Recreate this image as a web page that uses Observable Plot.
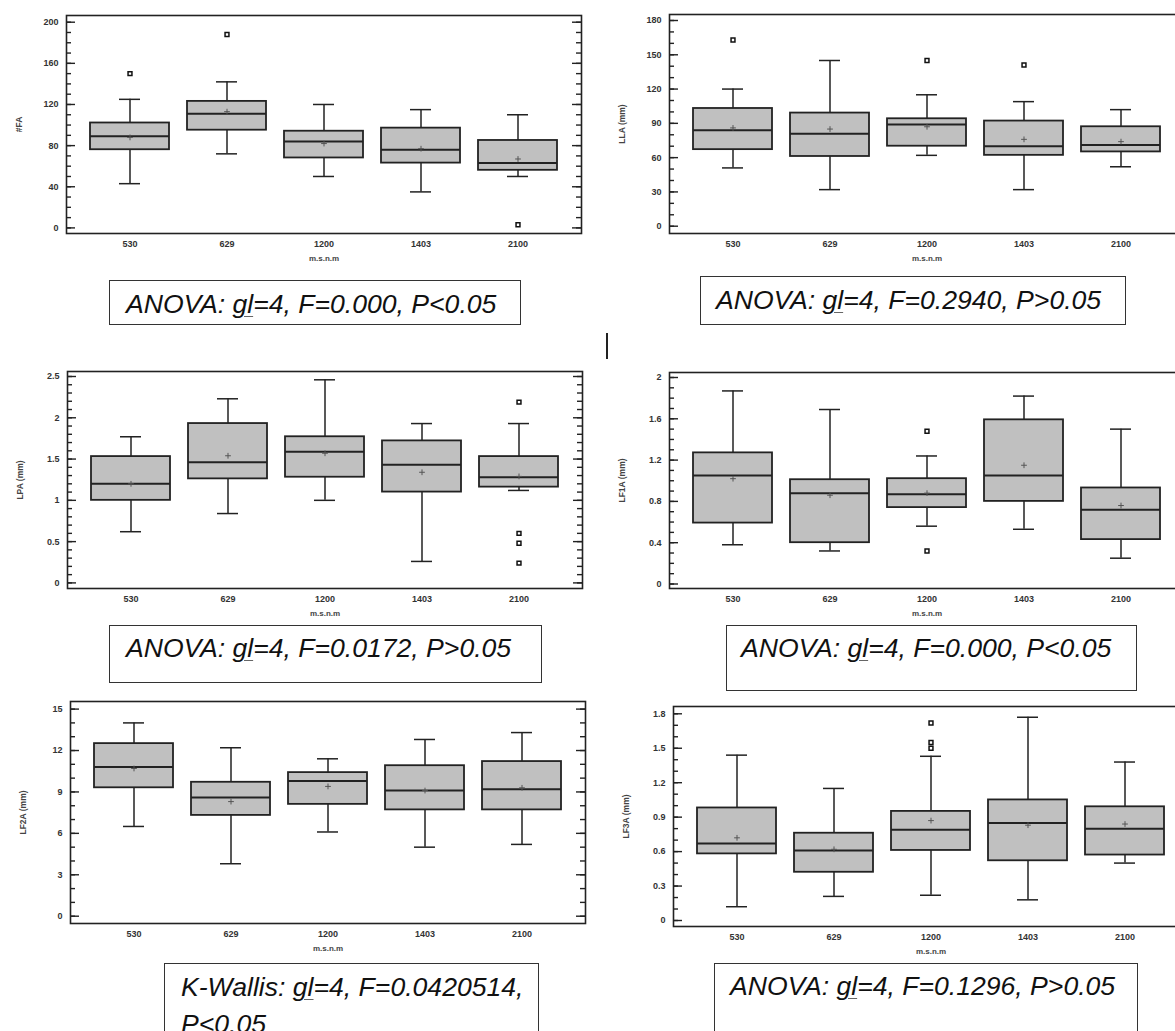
<!DOCTYPE html>
<html>
<head>
<meta charset="utf-8">
<script src="https://cdn.jsdelivr.net/npm/d3@7"></script>
<script src="https://cdn.jsdelivr.net/npm/@observablehq/plot@0.6"></script>
<style>
  html, body { margin: 0; padding: 0; background: #fff; overflow: hidden; }
  #page { position: relative; width: 1175px; height: 1031px; overflow: hidden; background: #fff; }
  .cap-box { position: absolute; box-sizing: border-box; border: 1.5px solid #333; background: transparent; }
  .cap-text { position: absolute; font-family: "Liberation Sans", Arial, sans-serif; font-style: italic;
              font-size: 26.6px; line-height: 26px; color: #111; white-space: nowrap; }
  .cap-text .gl { text-decoration: underline; text-decoration-thickness: 1px; text-underline-offset: 3px; text-decoration-color: #666; }
</style>
</head>
<body>
<div id="page"></div>
<script>
// Altitude groups (metres above sea level)
const categories = ["530", "629", "1200", "1403", "2100"];

// Box summaries per altitude: [lower whisker, Q1, median, Q3, upper whisker, mean]
const faBoxes = [
  [43, 76, 89, 102, 125, 88],
  [72, 95, 111, 123, 142, 113],
  [50, 68, 84, 94, 120, 82],
  [35, 63, 76, 97, 115, 77],
  [50, 56, 63, 85, 110, 67]
];
const faOutliers = [[150], [188], [], [], [3]];
const faTicks = [0, 40, 80, 120, 160, 200];

const llaBoxes = [
  [51, 67, 84, 103, 120, 86],
  [32, 61, 81, 99, 145, 85],
  [62, 70, 89, 94, 115, 87],
  [32, 62, 70, 92, 109, 76],
  [52, 65, 71, 87, 102, 74]
];
const llaOutliers = [[163], [], [145], [141], []];
const llaTicks = [0, 30, 60, 90, 120, 150, 180];

const lpaBoxes = [
  [0.62, 1.00, 1.20, 1.53, 1.77, 1.20],
  [0.84, 1.26, 1.46, 1.93, 2.23, 1.54],
  [1.00, 1.28, 1.59, 1.77, 2.46, 1.57],
  [0.26, 1.10, 1.43, 1.72, 1.93, 1.34],
  [1.12, 1.16, 1.28, 1.53, 1.93, 1.29]
];
const lpaOutliers = [[], [], [], [], [2.19, 0.60, 0.48, 0.24]];
const lpaTicks = [0, 0.5, 1, 1.5, 2, 2.5];

const lf1aBoxes = [
  [0.38, 0.59, 1.05, 1.27, 1.87, 1.02],
  [0.32, 0.40, 0.88, 1.01, 1.69, 0.86],
  [0.56, 0.74, 0.87, 1.02, 1.24, 0.88],
  [0.53, 0.80, 1.05, 1.59, 1.82, 1.15],
  [0.25, 0.43, 0.72, 0.93, 1.50, 0.76]
];
const lf1aOutliers = [[], [], [1.48, 0.32], [], []];
const lf1aTicks = [0, 0.4, 0.8, 1.2, 1.6, 2];

const lf2aBoxes = [
  [6.5, 9.3, 10.8, 12.5, 14.0, 10.7],
  [3.8, 7.3, 8.6, 9.7, 12.2, 8.3],
  [6.1, 8.1, 9.8, 10.4, 11.4, 9.4],
  [5.0, 7.7, 9.1, 10.9, 12.8, 9.1],
  [5.2, 7.7, 9.2, 11.2, 13.3, 9.3]
];
const lf2aOutliers = [[], [], [], [], []];
const lf2aTicks = [0, 3, 6, 9, 12, 15];

const lf3aBoxes = [
  [0.12, 0.58, 0.67, 0.98, 1.44, 0.72],
  [0.21, 0.42, 0.61, 0.76, 1.15, 0.62],
  [0.22, 0.61, 0.79, 0.95, 1.43, 0.87],
  [0.18, 0.52, 0.85, 1.05, 1.77, 0.83],
  [0.50, 0.57, 0.80, 0.99, 1.38, 0.84]
];
const lf3aOutliers = [[], [], [1.72, 1.55, 1.50], [], []];
const lf3aTicks = [0, 0.3, 0.6, 0.9, 1.2, 1.5, 1.8];

// Statistical test captions: [before "gl", after "gl"]
const captions = [
  ["ANOVA: ", "=4, F=0.000, P<0.05"],
  ["ANOVA: ", "=4, F=0.2940, P>0.05"],
  ["ANOVA: ", "=4, F=0.0172, P>0.05"],
  ["ANOVA: ", "=4, F=0.000, P<0.05"],
  ["K-Wallis: ", "=4, F=0.0420514, P<0.05"],
  ["ANOVA: ", "=4, F=0.1296, P>0.05"]
];
const xTitle = "m.s.n.m";

const page = document.getElementById("page");
const FRAME_W = 515;
const M = {left: 66, right: 8, top: 4, bottom: 40};
const ink = "#222";
const font = "'Liberation Sans', Arial, sans-serif";

const panels = [
  {boxes: faBoxes, outliers: faOutliers, ticks: faTicks, minor: 10, title: "#FA",
   left: 66, top: 15, h: 218, insetTop: 6.7, insetBottom: 5.6},
  {boxes: llaBoxes, outliers: llaOutliers, ticks: llaTicks, minor: 10, title: "LLA (mm)",
   left: 669, top: 14, h: 219, insetTop: 6, insetBottom: 7.3},
  {boxes: lpaBoxes, outliers: lpaOutliers, ticks: lpaTicks, minor: 0.1, title: "LPA (mm)",
   left: 67, top: 371, h: 217, insetTop: 5, insetBottom: 5.6},
  {boxes: lf1aBoxes, outliers: lf1aOutliers, ticks: lf1aTicks, minor: 0.1, title: "LF1A (mm)",
   left: 669, top: 372, h: 216, insetTop: 5, insetBottom: 4.5},
  {boxes: lf2aBoxes, outliers: lf2aOutliers, ticks: lf2aTicks, minor: 1, title: "LF2A (mm)",
   left: 70, top: 701, h: 222, insetTop: 7.6, insetBottom: 7.3},
  {boxes: lf3aBoxes, outliers: lf3aOutliers, ticks: lf3aTicks, minor: 0.1, title: "LF3A (mm)",
   left: 673, top: 706, h: 220, insetTop: 7.3, insetBottom: 6}
];

function drawPanel(p) {
  const rows = categories.map((c, i) => {
    const [lo, q1, med, q3, hi, mean] = p.boxes[i];
    return {c, lo, q1, med, q3, hi, mean};
  });
  const outs = p.outliers.flatMap((vs, i) => vs.map(v => ({c: categories[i], v})));
  const max = p.ticks[p.ticks.length - 1];
  const minorTicks = d3.range(0, Math.round(max / p.minor) + 1).map(i => i * p.minor);
  const tickStyle = {y: d => d, stroke: ink, strokeWidth: 1.4};
  const chart = Plot.plot({
    width: M.left + FRAME_W + M.right,
    height: M.top + p.h + M.bottom,
    marginLeft: M.left, marginRight: M.right, marginTop: M.top, marginBottom: M.bottom,
    style: {background: "transparent", fontFamily: font, overflow: "visible"},
    x: {type: "band", domain: categories, paddingInner: 0.186, paddingOuter: 0.242},
    y: {domain: [0, max], insetTop: p.insetTop, insetBottom: p.insetBottom},
    marks: [
      // inward minor and major ticks on both sides of the frame
      Plot.tickY(minorTicks, {...tickStyle, insetRight: FRAME_W - 5}),
      Plot.tickY(minorTicks, {...tickStyle, insetLeft: FRAME_W - 5}),
      Plot.tickY(p.ticks, {...tickStyle, insetRight: FRAME_W - 9}),
      Plot.tickY(p.ticks, {...tickStyle, insetLeft: FRAME_W - 9}),
      Plot.axisY(p.ticks, {tickSize: 0, tickPadding: 8, label: null, tickFormat: d => `${d}`,
        fontSize: 9, fontWeight: "bold", fill: "#333"}),
      Plot.axisX({tickSize: 0, tickPadding: 7, label: null, fontSize: 9, fontWeight: "bold", fill: "#333"}),
      Plot.text([xTitle], {text: d => d, frameAnchor: "bottom", lineAnchor: "middle", dy: 25,
        fontSize: 8, fontWeight: "bold", fill: "#444"}),
      Plot.text([p.title], {text: d => d, frameAnchor: "left", textAnchor: "middle", rotate: -90, dx: -47,
        fontSize: 8.5, fontWeight: "bold", fill: "#444"}),
      // whiskers and caps
      Plot.ruleX(rows, {x: "c", y1: "lo", y2: "q1", stroke: ink, strokeWidth: 1.5}),
      Plot.ruleX(rows, {x: "c", y1: "q3", y2: "hi", stroke: ink, strokeWidth: 1.5}),
      Plot.tickY(rows, {x: "c", y: "lo", insetLeft: 29, insetRight: 29, stroke: ink, strokeWidth: 1.5}),
      Plot.tickY(rows, {x: "c", y: "hi", insetLeft: 29, insetRight: 29, stroke: ink, strokeWidth: 1.5}),
      // interquartile boxes, medians and means
      Plot.barY(rows, {x: "c", y1: "q1", y2: "q3", fill: "#c0c0c0", stroke: ink, strokeWidth: 1.8}),
      Plot.tickY(rows, {x: "c", y: "med", stroke: ink, strokeWidth: 2}),
      Plot.dot(rows, {x: "c", y: "mean", symbol: "plus", r: 2, stroke: "#555", strokeWidth: 1}),
      // outliers
      Plot.dot(outs, {x: "c", y: "v", symbol: "square", r: 2.2, stroke: "#111", strokeWidth: 1.5, fill: "white"}),
      Plot.frame({stroke: ink, strokeWidth: 1.6})
    ]
  });
  chart.style.position = "absolute";
  chart.style.left = (p.left - M.left) + "px";
  chart.style.top = (p.top - M.top) + "px";
  chart.style.maxWidth = "none";
  page.appendChild(chart);
}
panels.forEach(drawPanel);

// Caption boxes under each panel
const captionLayout = [
  {box: [109, 280, 412, 45], text: [126, 290.7]},
  {box: [700, 276, 426, 49], text: [716, 287]},
  {box: [109, 625, 433, 58], text: [126, 634.7]},
  {box: [726, 625, 411, 66], text: [741, 634.7]},
  {box: [163.5, 963, 375, 120], text: [181, 969.2], width: 350, lineHeight: 37},
  {box: [714, 963, 424, 120], text: [730, 973]}
];
captions.forEach(([pre, post], i) => {
  const L = captionLayout[i];
  const box = document.createElement("div");
  box.className = "cap-box";
  Object.assign(box.style, {left: L.box[0] + "px", top: L.box[1] + "px", width: L.box[2] + "px", height: L.box[3] + "px"});
  page.appendChild(box);
  const t = document.createElement("div");
  t.className = "cap-text";
  Object.assign(t.style, {left: L.text[0] + "px", top: L.text[1] + "px"});
  if (L.width) { t.style.width = L.width + "px"; t.style.whiteSpace = "normal"; t.style.lineHeight = L.lineHeight + "px"; }
  t.append(pre);
  const gl = document.createElement("span");
  gl.className = "gl";
  gl.textContent = "gl";
  t.append(gl, post);
  page.appendChild(t);
});

// stray vertical rule between the first and second rows
const bar = document.createElement("div");
Object.assign(bar.style, {position: "absolute", left: "606px", top: "333px", width: "1.5px", height: "26px", background: "#222"});
page.appendChild(bar);
</script>
</body>
</html>
